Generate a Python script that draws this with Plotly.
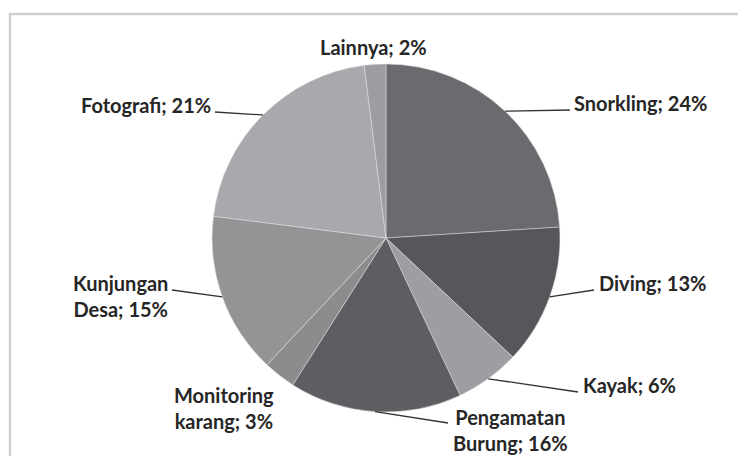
import math
import plotly.graph_objects as go

labels = ["Snorkling", "Diving", "Kayak", "Pengamatan Burung", "Monitoring karang",
          "Kunjungan Desa", "Fotografi", "Lainnya"]
values = [24, 13, 6, 16, 3, 15, 21, 2]
label_texts = ["Snorkling; 24%", "Diving; 13%", "Kayak; 6%", "Pengamatan<br>Burung; 16%",
               "Monitoring<br>karang; 3%", "Kunjungan<br>Desa; 15%", "Fotografi; 21%", "Lainnya; 2%"]
colors = ["#6a6b6e", "#56575a", "#9d9ea1", "#5d5e61", "#8b8c8e", "#939496", "#a8a9ac", "#9c9da0"]

W, H = 746, 456
OFF = 8  # page body margin offset
CX, CY, R = 386, 238, 174

# label layout (pixel in screenshot): text x, text y, xanchor, leader end point (or None)
label_layout = [
    (572, 103, "left", (570, 110)),
    (597, 283, "left", (594, 290)),
    (581, 385, "left", (578, 392)),
    (451, 430, "left", (448, 423)),
    (224, 408, "center", None),
    (121, 296, "center", (172, 290)),
    (213, 105, "right", (215, 112)),
    (373, 47, "center", None),
]

FONT = dict(family="Lato, Liberation Sans, sans-serif", size=20, color="#262626")


def px(x):
    return (x - OFF) / W


def py(y):
    return 1 - (y - OFF) / H


fig = go.Figure()
fig.add_trace(go.Pie(
    labels=labels, values=values, sort=False, direction="clockwise", rotation=0,
    marker=dict(colors=colors, line=dict(color="rgba(230,230,230,0.6)", width=0.8)),
    textinfo="none", hoverinfo="label+percent", showlegend=False,
    domain=dict(x=[px(CX - R), px(CX + R)], y=[py(CY + R), py(CY - R)]),
))

total = sum(values)
cum = 0
annotations = []
shapes = []
for v, txt, (tx, ty, anc, lend) in zip(values, label_texts, label_layout):
    mid = (cum + v / 2) / total * 2 * math.pi
    cum += v
    ex = CX + R * math.sin(mid)
    ey = CY - R * math.cos(mid)
    annotations.append(dict(x=px(tx), y=py(ty), xref="paper", yref="paper", text="<b>" + txt + "</b>",
                            showarrow=False, xanchor=anc, yanchor="middle", align="center", font=FONT))
    if lend is not None:
        shapes.append(dict(type="line", xref="paper", yref="paper", x0=px(ex), y0=py(ey),
                           x1=px(lend[0]), y1=py(lend[1]), line=dict(color="#333333", width=1.3)))

shapes.append(dict(type="rect", xref="paper", yref="paper", x0=px(10), y0=py(14), x1=px(780), y1=py(490),
                   line=dict(color="#d0d0d0", width=2.5), layer="below"))

fig.update_layout(width=W, height=H, margin=dict(l=0, r=0, t=0, b=0),
                  paper_bgcolor="white", plot_bgcolor="white",
                  annotations=annotations, shapes=shapes)
fig.write_html("out.html")
